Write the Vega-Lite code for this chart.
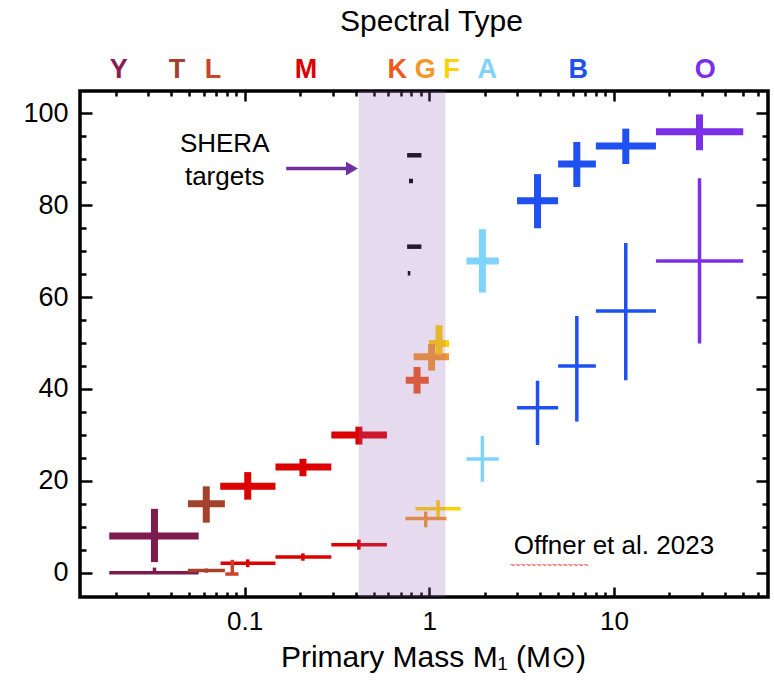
{
  "$schema": "https://vega.github.io/schema/vega-lite/v6.json",
  "width": 688,
  "height": 506,
  "autosize": {"type": "none"},
  "padding": {"left": 80, "top": 91, "right": 6, "bottom": 84},
  "background": "white",
  "config": {
    "view": {"stroke": "black", "strokeWidth": 3.5},
    "font": "Liberation Sans",
    "axis": {
      "domain": false,
      "grid": false,
      "tickColor": "black",
      "tickWidth": 2.5,
      "labelFont": "Liberation Sans",
      "labelFontSize": 26,
      "labelColor": "black",
      "labelOverlap": false,
      "labelFlush": false,
      "labelBound": false,
      "titleFont": "Liberation Sans",
      "titleFontSize": 30,
      "titleFontWeight": "normal",
      "titleColor": "black",
      "zindex": 1
    }
  },
  "datasets": {
    "points": [
      {"type": "Y", "series": "upper", "x": 0.0325, "xlo": 0.0185, "xhi": 0.0564, "y": 8.0, "ylo": 2.3, "yhi": 13.9},
      {"type": "T", "series": "upper", "x": 0.062, "xlo": 0.0493, "xhi": 0.0782, "y": 15.0, "ylo": 10.9, "yhi": 18.8},
      {"type": "M", "series": "upper", "x": 0.104, "xlo": 0.0738, "xhi": 0.147, "y": 18.8, "ylo": 15.9, "yhi": 21.9},
      {"type": "M", "series": "upper", "x": 0.207, "xlo": 0.147, "xhi": 0.295, "y": 23.0, "ylo": 21.0, "yhi": 24.8},
      {"type": "M", "series": "upper", "x": 0.416, "xlo": 0.295, "xhi": 0.59, "y": 30.0, "ylo": 27.9, "yhi": 31.8},
      {"type": "K", "series": "upper", "x": 0.859, "xlo": 0.746, "xhi": 0.994, "y": 41.9, "ylo": 39.0, "yhi": 44.8},
      {"type": "G", "series": "upper", "x": 1.03, "xlo": 0.824, "xhi": 1.28, "y": 47.0, "ylo": 44.0, "yhi": 49.8},
      {"type": "F", "series": "upper", "x": 1.13, "xlo": 0.994, "xhi": 1.28, "y": 49.9, "ylo": 47.5, "yhi": 53.9},
      {"type": "A", "series": "upper", "x": 1.94, "xlo": 1.59, "xhi": 2.38, "y": 67.9, "ylo": 61.0, "yhi": 74.8},
      {"type": "B", "series": "upper", "x": 3.86, "xlo": 2.99, "xhi": 4.99, "y": 81.0, "ylo": 75.0, "yhi": 86.8},
      {"type": "B", "series": "upper", "x": 6.3, "xlo": 4.99, "xhi": 7.99, "y": 89.0, "ylo": 84.0, "yhi": 93.8},
      {"type": "B", "series": "upper", "x": 11.6, "xlo": 7.99, "xhi": 16.9, "y": 92.9, "ylo": 89.0, "yhi": 96.7},
      {"type": "O", "series": "upper", "x": 29.1, "xlo": 16.9, "xhi": 50.2, "y": 96.0, "ylo": 92.0, "yhi": 99.8},
      {"type": "Y", "series": "lower", "x": 0.0325, "xlo": 0.0185, "xhi": 0.0564, "y": 0.0, "ylo": 0.0, "yhi": 1.1},
      {"type": "T", "series": "lower", "x": 0.062, "xlo": 0.0493, "xhi": 0.0782, "y": 0.45, "ylo": 0.0, "yhi": 0.9},
      {"type": "L", "series": "lower", "x": 0.0858, "xlo": 0.0786, "xhi": 0.0928, "y": -0.3, "ylo": -0.3, "yhi": 2.8},
      {"type": "M", "series": "lower", "x": 0.104, "xlo": 0.0741, "xhi": 0.147, "y": 2.05, "ylo": 1.2, "yhi": 2.9},
      {"type": "M", "series": "lower", "x": 0.207, "xlo": 0.147, "xhi": 0.295, "y": 3.4, "ylo": 2.6, "yhi": 4.2},
      {"type": "M", "series": "lower", "x": 0.416, "xlo": 0.295, "xhi": 0.59, "y": 6.1, "ylo": 5.0, "yhi": 7.2},
      {"type": "G", "series": "lower", "x": 0.957, "xlo": 0.743, "xhi": 1.24, "y": 11.8, "ylo": 9.9, "yhi": 13.3},
      {"type": "F", "series": "lower", "x": 1.116, "xlo": 0.842, "xhi": 1.48, "y": 13.9, "ylo": 12.1, "yhi": 15.8},
      {"type": "A", "series": "lower", "x": 1.94, "xlo": 1.59, "xhi": 2.38, "y": 24.75, "ylo": 19.8, "yhi": 29.8},
      {"type": "B", "series": "lower", "x": 3.86, "xlo": 2.99, "xhi": 4.99, "y": 35.9, "ylo": 27.8, "yhi": 41.8},
      {"type": "B", "series": "lower", "x": 6.3, "xlo": 4.99, "xhi": 7.99, "y": 45.0, "ylo": 32.9, "yhi": 55.9},
      {"type": "B", "series": "lower", "x": 11.6, "xlo": 7.99, "xhi": 16.9, "y": 57.0, "ylo": 41.9, "yhi": 71.8},
      {"type": "O", "series": "lower", "x": 29.1, "xlo": 16.9, "xhi": 50.2, "y": 67.9, "ylo": 49.9, "yhi": 85.9},
      {"type": "SHERA", "series": "shera", "x": 0.83, "xlo": 0.759, "xhi": 0.907, "y": 90.9, "ylo": 90.9, "yhi": 90.9},
      {"type": "SHERA", "series": "shera", "x": 0.797, "xlo": 0.777, "xhi": 0.817, "y": 85.3, "ylo": 85.3, "yhi": 85.3},
      {"type": "SHERA", "series": "shera", "x": 0.83, "xlo": 0.759, "xhi": 0.907, "y": 71.0, "ylo": 71.0, "yhi": 71.0},
      {"type": "SHERA", "series": "shera", "x": 0.777, "xlo": 0.765, "xhi": 0.79, "y": 65.2, "ylo": 65.2, "yhi": 65.2}
    ],
    "notes": [
      {"label": "SHERA", "x": 0.078, "y": 93.3},
      {"label": "targets", "x": 0.078, "y": 86.1},
      {"label": "Offner et al. 2023", "x": 10.0, "y": 5.9}
    ],
    "squiggle": [{"label": "~~~~~~~~~~~~~~~", "x": 2.73, "y": 1.7}],
    "arrow": [{"x": 0.168, "x2": 0.37, "y": 88.0, "head": 0.3816}],
    "shade": [{"x": 0.415, "x2": 1.224}]
  },
  "resolve": {"axis": {"x": "independent", "y": "independent"}},
  "layer": [
    {
      "data": {"name": "points"},
      "transform": [{"filter": "datum.series === 'upper'"}],
      "mark": {"type": "rule", "strokeWidth": 7, "strokeCap": "butt"},
      "encoding": {
        "x": {"field": "xlo", "type": "quantitative",
              "scale": {"type": "log", "domain": [0.01284, 68.35], "nice": false},
              "axis": {"orient": "bottom", "values": [0.1, 1, 10], "format": "~g", "tickSize": -10, "labelPadding": 21,
                       "title": "Primary Mass M₁ (M⊙)", "titlePadding": 8, "titleX": 353}},
        "x2": {"field": "xhi"},
        "y": {"field": "y", "type": "quantitative",
              "scale": {"domain": [-5.3, 104.9], "nice": false, "zero": false},
              "axis": {"orient": "left", "values": [0, 20, 40, 60, 80, 100], "format": "d", "tickSize": -12, "labelPadding": 24, "labelFontSize": 27, "title": null}},
        "color": {"field": "type", "type": "nominal", "legend": null,
                  "scale": {"domain": ["Y", "T", "L", "M", "K", "G", "F", "A", "B", "O", "SHERA"],
                            "range": ["#7f1a4c", "#a3412b", "#c8452c", "#dd0000", "#ec5a1c", "#f5962a", "#ffd200", "#7fd3fc", "#1f50f0", "#7b2fe6", "#000000"]}}
      }
    },
    {
      "data": {"name": "points"},
      "transform": [{"filter": "datum.series === 'upper'"}],
      "mark": {"type": "rule", "strokeWidth": 7, "strokeCap": "butt"},
      "encoding": {
        "x": {"field": "x", "type": "quantitative",
              "scale": {"type": "log", "domain": [0.01284, 68.35], "nice": false},
              "axis": {"orient": "bottom", "values": [0.02, 0.03, 0.04, 0.05, 0.06, 0.07, 0.08, 0.09, 0.2, 0.3, 0.4, 0.5, 0.6, 0.7, 0.8, 0.9, 2, 3, 4, 5, 6, 7, 8, 9, 20, 30, 40, 50, 60],
                       "tickSize": -5, "labels": false, "title": null}},
        "y": {"field": "ylo", "type": "quantitative",
              "scale": {"domain": [-5.3, 104.9], "nice": false, "zero": false},
              "axis": {"orient": "left", "values": [5, 10, 15, 25, 30, 35, 45, 50, 55, 65, 70, 75, 85, 90, 95], "tickSize": -6, "labels": false, "title": null}},
        "y2": {"field": "yhi"},
        "color": {"field": "type", "type": "nominal", "legend": null}
      }
    },
    {
      "data": {"name": "points"},
      "transform": [{"filter": "datum.series === 'lower'"}],
      "mark": {"type": "rule", "strokeWidth": 3.5, "strokeCap": "butt"},
      "encoding": {
        "x": {"field": "xlo", "type": "quantitative",
              "scale": {"type": "log", "domain": [0.01284, 68.35], "nice": false},
              "axis": {"orient": "top", "values": [0.1, 1, 10], "tickSize": -10, "labels": false, "title": null}},
        "x2": {"field": "xhi"},
        "y": {"field": "y", "type": "quantitative",
              "scale": {"domain": [-5.3, 104.9], "nice": false, "zero": false},
              "axis": {"orient": "right", "values": [0, 20, 40, 60, 80, 100], "tickSize": -12, "labels": false, "title": null}},
        "color": {"field": "type", "type": "nominal", "legend": null}
      }
    },
    {
      "data": {"name": "points"},
      "transform": [{"filter": "datum.series === 'lower'"}],
      "mark": {"type": "rule", "strokeWidth": 3.5, "strokeCap": "butt"},
      "encoding": {
        "x": {"field": "x", "type": "quantitative",
              "scale": {"type": "log", "domain": [0.01284, 68.35], "nice": false},
              "axis": {"orient": "top", "values": [0.02, 0.03, 0.04, 0.05, 0.06, 0.07, 0.08, 0.09, 0.2, 0.3, 0.4, 0.5, 0.6, 0.7, 0.8, 0.9, 2, 3, 4, 5, 6, 7, 8, 9, 20, 30, 40, 50, 60],
                       "tickSize": -5, "labels": false, "title": null}},
        "y": {"field": "ylo", "type": "quantitative",
              "scale": {"domain": [-5.3, 104.9], "nice": false, "zero": false},
              "axis": {"orient": "right", "values": [5, 10, 15, 25, 30, 35, 45, 50, 55, 65, 70, 75, 85, 90, 95], "tickSize": -6, "labels": false, "title": null}},
        "y2": {"field": "yhi"},
        "color": {"field": "type", "type": "nominal", "legend": null}
      }
    },
    {
      "data": {"name": "points"},
      "transform": [{"filter": "datum.series === 'shera'"}],
      "mark": {"type": "rule", "strokeWidth": 4.5, "strokeCap": "butt"},
      "encoding": {
        "x": {"field": "xlo", "type": "quantitative",
              "scale": {"type": "log", "domain": [0.01284, 68.35], "nice": false},
              "axis": {"orient": "top", "values": [0.0207, 0.0428, 0.0671, 0.214, 0.667, 0.946, 1.31, 2.05, 6.38, 31.1],
                       "ticks": false, "tickSize": 0, "labelPadding": 14, "labelBaseline": "alphabetic",
                       "labelFontSize": 27, "labelFontWeight": "bold",
                       "labelExpr": "datum.value < 0.03 ? 'Y' : datum.value < 0.05 ? 'T' : datum.value < 0.1 ? 'L' : datum.value < 0.4 ? 'M' : datum.value < 0.8 ? 'K' : datum.value < 1.1 ? 'G' : datum.value < 1.6 ? 'F' : datum.value < 3 ? 'A' : datum.value < 15 ? 'B' : 'O'",
                       "labelColor": {"condition": [
                         {"test": "datum.value < 0.03", "value": "#8a1c50"},
                         {"test": "datum.value < 0.05", "value": "#a3412b"},
                         {"test": "datum.value < 0.1", "value": "#c8452c"},
                         {"test": "datum.value < 0.4", "value": "#dd0000"},
                         {"test": "datum.value < 0.8", "value": "#ec5a1c"},
                         {"test": "datum.value < 1.1", "value": "#f5962a"},
                         {"test": "datum.value < 1.6", "value": "#ffd200"},
                         {"test": "datum.value < 3", "value": "#7fd3fc"},
                         {"test": "datum.value < 15", "value": "#1f50f0"}
                       ], "value": "#7b2fe6"},
                       "title": "Spectral Type", "titlePadding": 25, "titleBaseline": "alphabetic", "titleX": 351}},
        "x2": {"field": "xhi"},
        "y": {"field": "y", "type": "quantitative",
              "scale": {"domain": [-5.3, 104.9], "nice": false, "zero": false}, "axis": null},
        "color": {"field": "type", "type": "nominal", "legend": null}
      }
    },
    {
      "data": {"name": "arrow"},
      "mark": {"type": "rule", "strokeWidth": 3.5, "color": "#7030a0"},
      "encoding": {
        "x": {"field": "x", "type": "quantitative", "scale": {"type": "log", "domain": [0.01284, 68.35], "nice": false}, "axis": null},
        "x2": {"field": "x2"},
        "y": {"field": "y", "type": "quantitative", "scale": {"domain": [-5.3, 104.9], "nice": false, "zero": false}, "axis": null}
      }
    },
    {
      "data": {"name": "arrow"},
      "mark": {"type": "point", "shape": "triangle-right", "filled": true, "size": 190, "color": "#7030a0", "opacity": 1},
      "encoding": {
        "x": {"field": "head", "type": "quantitative", "scale": {"type": "log", "domain": [0.01284, 68.35], "nice": false}, "axis": null},
        "y": {"field": "y", "type": "quantitative", "scale": {"domain": [-5.3, 104.9], "nice": false, "zero": false}, "axis": null}
      }
    },
    {
      "data": {"name": "notes"},
      "mark": {"type": "text", "font": "Liberation Sans", "fontSize": 26, "align": "center", "baseline": "middle", "color": "black"},
      "encoding": {
        "x": {"field": "x", "type": "quantitative", "scale": {"type": "log", "domain": [0.01284, 68.35], "nice": false}, "axis": null},
        "y": {"field": "y", "type": "quantitative", "scale": {"domain": [-5.3, 104.9], "nice": false, "zero": false}, "axis": null},
        "text": {"field": "label", "type": "nominal"}
      }
    },
    {
      "data": {"name": "squiggle"},
      "mark": {"type": "text", "font": "Liberation Sans", "fontSize": 9, "align": "left", "baseline": "middle", "color": "#e8322a"},
      "encoding": {
        "x": {"field": "x", "type": "quantitative", "scale": {"type": "log", "domain": [0.01284, 68.35], "nice": false}, "axis": null},
        "y": {"field": "y", "type": "quantitative", "scale": {"domain": [-5.3, 104.9], "nice": false, "zero": false}, "axis": null},
        "text": {"field": "label", "type": "nominal"}
      }
    },
    {
      "data": {"name": "shade"},
      "mark": {"type": "rect", "color": "#9664be", "opacity": 0.24},
      "encoding": {
        "x": {"field": "x", "type": "quantitative", "scale": {"type": "log", "domain": [0.01284, 68.35], "nice": false}, "axis": null},
        "x2": {"field": "x2"}
      }
    }
  ]
}
